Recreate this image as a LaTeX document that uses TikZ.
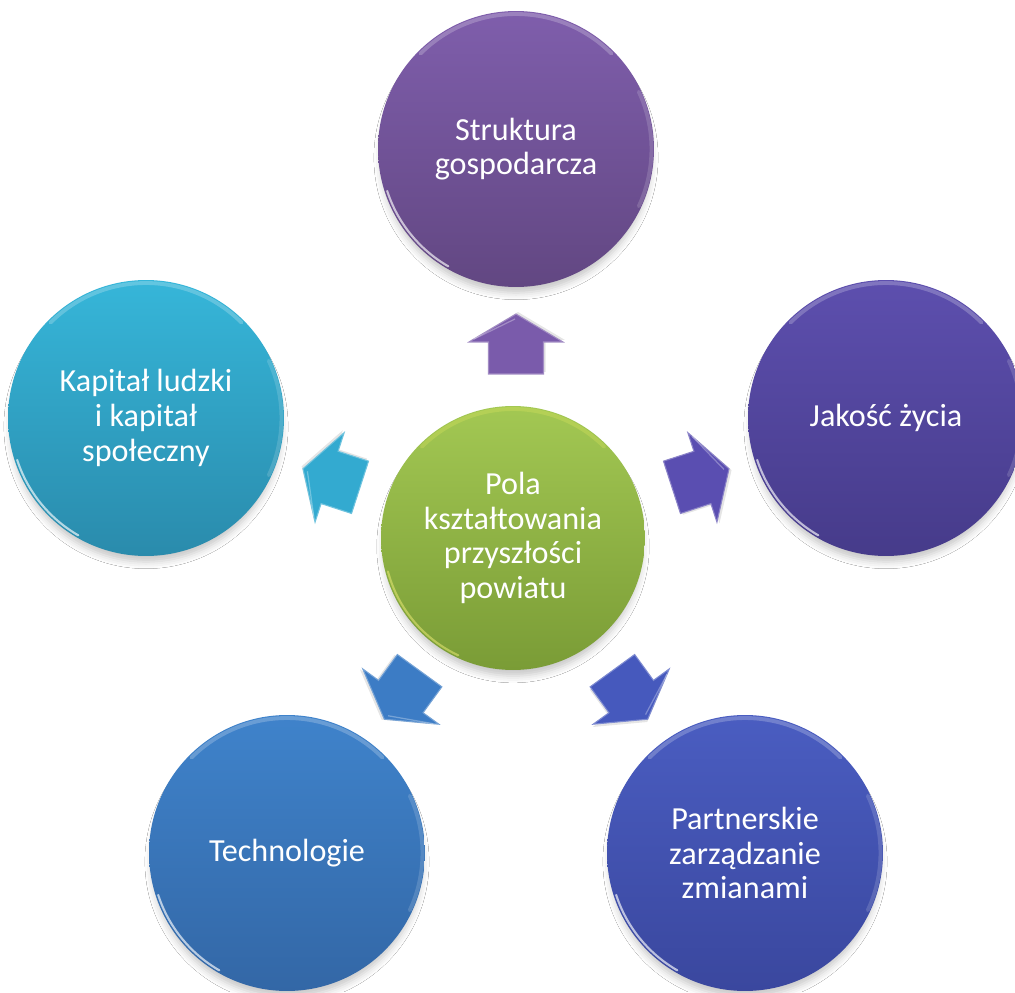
\documentclass[tikz,border=0pt]{standalone}
\usepackage{fontspec}
\setmainfont{Carlito}
\usetikzlibrary{shadows.blur}
\definecolor{pTop}{HTML}{7F5EAC}\definecolor{pBot}{HTML}{624782}
\definecolor{vTop}{HTML}{5D4FAE}\definecolor{vBot}{HTML}{463B8A}
\definecolor{iTop}{HTML}{4A5DC1}\definecolor{iBot}{HTML}{3A479E}
\definecolor{bTop}{HTML}{3F83CB}\definecolor{bBot}{HTML}{3367A6}
\definecolor{cTop}{HTML}{36B6D9}\definecolor{cBot}{HTML}{2A8BAC}
\definecolor{gTop}{HTML}{A3C853}\definecolor{gBot}{HTML}{7A9C36}
\definecolor{aP}{HTML}{7A5BAB}\definecolor{aV}{HTML}{5A4EB1}
\definecolor{aI}{HTML}{4659BD}\definecolor{aB}{HTML}{3C7CC5}
\definecolor{aC}{HTML}{33AAD0}
\begin{document}
\begin{tikzpicture}[x=0.02cm,y=0.02cm,
  bubble/.style={circle, minimum size=5.52cm, inner sep=0pt, align=center,
    text=white, font=\fontsize{18.3}{19.7}\selectfont,
    blur shadow={shadow xshift=0pt, shadow yshift=-5pt, shadow blur radius=4pt, shadow scale=0.98, shadow opacity=22}},
  hlt/.style={white, opacity=0.22, line width=2.2pt, line cap=round},
  hlb/.style={white, opacity=0.65, line width=1.2pt, line cap=round},
  blockarrow/.style={fill=#1, draw=#1!70!white, line width=0.6pt, line join=miter}
]
\clip (0,0) rectangle (1015,992);
\fill[white] (0,0) rectangle (1015,992);

% circles
\node[bubble, top color=pTop, bottom color=pBot] (top) at (516,843) {Struktura\\gospodarcza};
\node[bubble, top color=vTop, bottom color=vBot] (right) at (886,574) {Jakość życia};
\node[bubble, top color=iTop, bottom color=iBot] (bright) at (745,139) {Partnerskie\\zarządzanie\\zmianami};
\node[bubble, top color=bTop, bottom color=bBot] (bleft) at (287,139) {Technologie};
\node[bubble, top color=cTop, bottom color=cBot] (left) at (146,574) {Kapitał ludzki\\i kapitał\\społeczny};
\node[bubble, minimum size=5.28cm, top color=gTop, bottom color=gBot] (center) at (513,454) {Pola\\kształtowania\\przyszłości\\powiatu};

% highlights on circles
\foreach \n in {top,right,bright,bleft,left}{
  \draw[hlt] ([shift={(135:2.70cm)}]\n.center) arc[start angle=135, end angle=45, radius=2.70cm];
  \draw[hlb] ([shift={(198:2.71cm)}]\n.center) arc[start angle=198, end angle=240, radius=2.71cm];
  \draw[hlt, opacity=0.15] ([shift={(-25:2.71cm)}]\n.center) arc[start angle=-25, end angle=25, radius=2.71cm];
}
\draw[hlt, opacity=0.2, yellow!60!white] ([shift={(135:2.58cm)}]center.center) arc[start angle=135, end angle=45, radius=2.58cm];
\draw[hlb, opacity=0.45, yellow!50!white] ([shift={(195:2.59cm)}]center.center) arc[start angle=195, end angle=245, radius=2.59cm];

% arrows
\foreach \ang/\col in {90/aP,18/aV,-54/aI,-126/aB,162/aC}{
  \begin{scope}[shift={(516,454)}, rotate=\ang]
    \fill[black, opacity=0.10] (166,-29.5) -- (198,-29.5) -- (198,-49) -- (226,-2) -- (198,45) -- (198,25.5) -- (166,25.5) -- cycle;
    \path[blockarrow=\col] (164,-27.5) -- (196,-27.5) -- (196,-47) -- (224,0) -- (196,47) -- (196,27.5) -- (164,27.5) -- cycle;
    \draw[white, opacity=0.3, line width=0.7pt] (199,42) -- (219,1);
  \end{scope}
}
\end{tikzpicture}
\end{document}
